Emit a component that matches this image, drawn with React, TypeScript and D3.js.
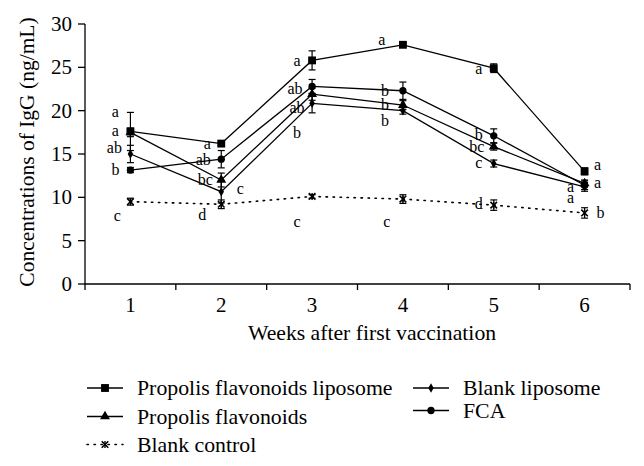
import React from 'react';
import * as d3 from 'd3';

const weeks = [1, 2, 3, 4, 5, 6];
const yTicks = [0, 5, 10, 15, 20, 25, 30];

const pflValues = [17.6, 16.2, 25.8, 27.6, 24.9, 13.0];
const pflErrors = [2.2, 0.2, 1.1, 0.2, 0.5, 0.4];
const pfValues = [17.5, 12.0, 21.9, 20.65, 15.85, 11.6];
const pfErrors = [0.5, 0.8, 0.7, 0.5, 0.4, 0.4];
const blValues = [15.0, 10.65, 20.85, 20.0, 13.9, 11.2];
const blErrors = [1.0, 1.3, 1.1, 0.4, 0.4, 0.5];
const fcaValues = [13.15, 14.4, 22.8, 22.3, 17.1, 11.4];
const fcaErrors = [0.3, 1.0, 0.8, 1.0, 0.8, 0.5];
const bcValues = [9.5, 9.2, 10.1, 9.8, 9.1, 8.2];
const bcErrors = [0.4, 0.5, 0.2, 0.5, 0.6, 0.6];

// significance letters: [week, value, text, dx]
const letters: [number, number, string, number][] = [
  [1, 19.8, 'a', -15], [1, 17.57, 'a', -15], [1, 15.58, 'ab', -16], [1, 13.15, 'b', -15], [1, 7.77, 'c', -13],
  [2, 16.04, 'a', -14], [2, 14.3, 'ab', -18], [2, 12.0, 'bc', -16], [2, 10.93, 'c', 19], [2, 7.96, 'd', -19],
  [3, 25.65, 'a', -15], [3, 22.5, 'ab', -17], [3, 20.27, 'ab', -15], [3, 17.39, 'b', -15], [3, 7.12, 'c', -15],
  [4, 28.15, 'a', -21], [4, 22.19, 'b', -18], [4, 20.65, 'b', -18], [4, 18.73, 'b', -18], [4, 7.12, 'c', -16],
  [5, 24.77, 'a', -15], [5, 17.19, 'b', -15], [5, 15.77, 'bc', -17], [5, 13.85, 'c', -15], [5, 9.12, 'd', -15],
  [6, 13.73, 'a', 13], [6, 11.54, 'a', 13], [6, 11.08, 'a', -14], [6, 9.81, 'a', -14], [6, 8.19, 'b', 16],
];

type Series = { name: string; values: number[]; errors: number[]; symbol: string; dotted?: boolean };
const series: Series[] = [
  { name: 'Propolis flavonoids liposome', values: pflValues, errors: pflErrors, symbol: 'square' },
  { name: 'Propolis flavonoids', values: pfValues, errors: pfErrors, symbol: 'triangle' },
  { name: 'Blank control', values: bcValues, errors: bcErrors, symbol: 'times', dotted: true },
  { name: 'Blank liposome', values: blValues, errors: blErrors, symbol: 'diamond' },
  { name: 'FCA', values: fcaValues, errors: fcaErrors, symbol: 'circle' },
];

const FONT = '"Liberation Serif", "Times New Roman", serif';

const symbolPath = (kind: string) => {
  switch (kind) {
    case 'square': return d3.symbol(d3.symbolSquare, 62)()!;
    case 'triangle': return d3.symbol(d3.symbolTriangle, 42)()!;
    case 'diamond': return d3.symbol(d3.symbolDiamond, 26)()!;
    case 'circle': return d3.symbol(d3.symbolCircle, 42)()!;
    default: return d3.symbol(d3.symbolTimes, 30)()!;
  }
};

function Marker({ kind, x, y }: { kind: string; x: number; y: number }) {
  const d = symbolPath(kind);
  if (kind === 'times') {
    return (
      <g transform={`translate(${x},${y})`}>
        <path d={d} fill="none" stroke="#000" strokeWidth={1.6} />
        <line x1={0} x2={0} y1={-3.5} y2={3.5} stroke="#000" strokeWidth={1.4} />
      </g>
    );
  }
  return <path d={d} transform={`translate(${x},${y})`} fill="#000" />;
}

export default function App() {
  const W = 644, H = 466;
  const x = d3.scaleBand<number>().domain(weeks).range([85, 630]).paddingInner(0).paddingOuter(0);
  const y = d3.scaleLinear().domain([0, 30]).range([284, 24]);
  const cx = (w: number) => (x(w) as number) + x.bandwidth() / 2;
  const line = d3.line<number>().x((_, i) => cx(weeks[i])).y((v) => y(v));
  const bounds = [...weeks.map((w) => x(w) as number), 630];

  const legendItems = [
    { s: series[0], lx: 87, ly: 388 },
    { s: series[1], lx: 87, ly: 416.5 },
    { s: series[2], lx: 87, ly: 444.5 },
    { s: series[3], lx: 413, ly: 388 },
    { s: series[4], lx: 413, ly: 410.5 },
  ];

  return (
    <svg width={W} height={H} style={{ position: 'absolute', left: 0, top: 0, background: '#fff' }} fontFamily={FONT}>
      <rect width={W} height={H} fill="#fff" />
      {/* axes */}
      <line x1={85} x2={85} y1={y(30)} y2={y(0)} stroke="#000" strokeWidth={1.3} />
      <line x1={85} x2={630} y1={y(0)} y2={y(0)} stroke="#000" strokeWidth={1.3} />
      {yTicks.map((t) => (
        <g key={t}>
          <line x1={78} x2={85} y1={y(t)} y2={y(t)} stroke="#000" strokeWidth={1.3} />
          <text x={72} y={y(t) + 7} textAnchor="end" fontSize={21}>{t}</text>
        </g>
      ))}
      {bounds.map((b, i) => (
        <line key={i} x1={b} x2={b} y1={y(0)} y2={y(0) + 6} stroke="#000" strokeWidth={1.3} />
      ))}
      {weeks.map((w) => (
        <text key={w} x={cx(w)} y={312} textAnchor="middle" fontSize={21}>{w}</text>
      ))}
      <text x={372} y={340} textAnchor="middle" fontSize={21.7}>Weeks after first vaccination</text>
      <text transform={`translate(34,152) rotate(-90)`} textAnchor="middle" fontSize={21.5}>Concentrations of IgG (ng/mL)</text>

      {/* lines */}
      {series.map((s) => (
        <path key={s.name} d={line(s.values)!} fill="none" stroke="#000"
          strokeWidth={s.dotted ? 1.6 : 1.3}
          strokeDasharray={s.dotted ? '1.4,5.6' : undefined}
          strokeLinecap={s.dotted ? 'round' : 'butt'} />
      ))}
      {/* error bars */}
      {series.map((s) => s.values.map((v, i) => {
        const px = cx(weeks[i]);
        const y1 = y(v + s.errors[i]);
        const y2 = y(v - s.errors[i]);
        return (
          <g key={s.name + i} stroke="#000" strokeWidth={1.2}>
            <line x1={px} x2={px} y1={y1} y2={y2} />
            <line x1={px - 3.5} x2={px + 3.5} y1={y1} y2={y1} />
            <line x1={px - 3.5} x2={px + 3.5} y1={y2} y2={y2} />
          </g>
        );
      }))}
      {/* markers */}
      {series.map((s) => s.values.map((v, i) => (
        <Marker key={s.name + 'm' + i} kind={s.symbol} x={cx(weeks[i])} y={y(v)} />
      )))}
      {/* letters */}
      {letters.map(([w, v, t, dx], i) => (
        <text key={'l' + i} x={cx(w) + dx} y={y(v) + 4.5} textAnchor="middle" fontSize={16}>{t}</text>
      ))}

      {/* legend */}
      {legendItems.map(({ s, lx, ly }) => (
        <g key={'lg' + s.name}>
          <line x1={lx} x2={lx + 36} y1={ly} y2={ly} stroke="#000"
            strokeWidth={s.dotted ? 1.6 : 1.3}
            strokeDasharray={s.dotted ? '1.4,5.6' : undefined}
            strokeLinecap={s.dotted ? 'round' : 'butt'} />
          <Marker kind={s.symbol} x={lx + 18} y={ly} />
          <text x={lx + 50} y={ly + 7} fontSize={21.8}>{s.name}</text>
        </g>
      ))}
    </svg>
  );
}
